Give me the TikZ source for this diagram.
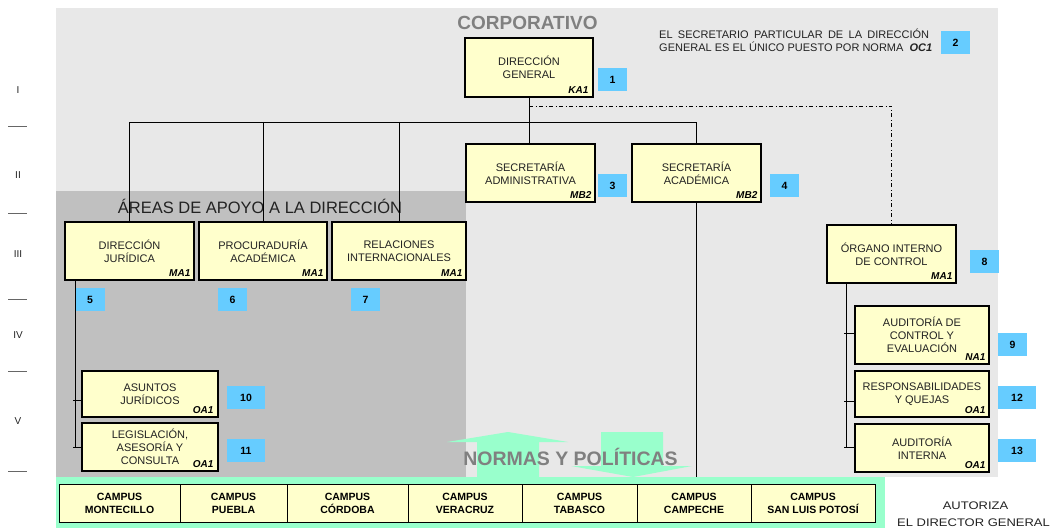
\documentclass[tikz,border=0pt]{standalone}
\usepackage{graphicx}
\usepackage{fontspec}
\setmainfont{Liberation Sans}
\definecolor{bglight}{HTML}{E8E8E8}
\definecolor{bgdark}{HTML}{C0C0C0}
\definecolor{boxfill}{HTML}{FFFFCC}
\definecolor{numblue}{HTML}{66CCFF}
\definecolor{mint}{HTML}{99FFCC}
\definecolor{titlegray}{HTML}{808080}
\definecolor{txt}{HTML}{222222}
\begin{document}
\begin{tikzpicture}[x=1pt,y=-1pt,
  orgbox/.style={draw=black, line width=1.1pt, fill=boxfill, inner sep=0pt, align=center, font=\fontsize{11}{13}\selectfont, text=txt},
  code/.style={font=\fontsize{10}{12}\selectfont\bfseries\itshape, inner sep=0pt, anchor=base east},
  num/.style={fill=numblue, minimum width=29pt, minimum height=23pt, inner sep=0pt, font=\fontsize{10.5}{12}\selectfont\bfseries},
  wnum/.style={num, minimum width=38pt},
  campus/.style={draw=black, line width=0.9pt, fill=boxfill, minimum height=38pt, inner sep=0pt, align=center, font=\fontsize{10.5}{13}\selectfont\bfseries},
  conn/.style={draw=black, line width=0.9pt},
  dashdotline/.style={draw=black, line width=0.9pt, dash pattern=on 4pt off 2.5pt on 1pt off 2.5pt},
  level/.style={font=\fontsize{10}{12}\selectfont, text=txt, inner sep=0pt},
  bigtitle/.style={font=\fontsize{19}{22}\selectfont\bfseries, text=titlegray, inner sep=0pt}
]
\useasboundingbox (0,0) rectangle (1055,529);
% backgrounds
\fill[bglight] (56,8) rectangle (998,477);
\fill[bgdark] (56,191) rectangle (466,477);
\fill[mint] (56,477) rectangle (885,528);

% level markers
\node[level] (l1) at (18,90) {I};
\node[level] (l2) at (18,175) {II};
\node[level] (l3) at (18,254) {III};
\node[level] (l4) at (18,335) {IV};
\node[level] (l5) at (18,421) {V};
\foreach \yy in {126,213,299,371,471} \draw[gray!80!black, line width=0.6pt] (8,\yy) -- (27,\yy);

% titles
\node[bigtitle] (corp) at (527.5,23) {CORPORATIVO};
\node[font=\fontsize{16.5}{19}\selectfont, text=txt, inner sep=0pt] (areas) at (260,206.5) {ÁREAS DE APOYO A LA DIRECCIÓN};

% arrows
\fill[mint] (477,477) -- (477,442) -- (447,442) -- (508,432) -- (568,442) -- (539,442) -- (539,477) -- cycle;
\fill[mint] (601,432) -- (663,432) -- (663,466) -- (692,466) -- (633,477) -- (571,466) -- (601,466) -- cycle;
\node[bigtitle, font=\fontsize{19.5}{22}\selectfont\bfseries] (normas) at (570.5,456.5) {NORMAS Y POLÍTICAS};

% note
\node[anchor=west, inner sep=0pt, align=left, font=\fontsize{11}{13}\selectfont, text=txt] (note) at (659,40.5)
  {\makebox[270pt][s]{EL SECRETARIO PARTICULAR DE LA DIRECCIÓN}\\GENERAL ES EL ÚNICO PUESTO POR NORMA\ \ \textbf{\textit{OC1}}};
\node[num] (n2) at (955.5,42.5) {2};

% boxes
\node[orgbox, minimum width=128pt, minimum height=59pt] (dg) at (529,67.5) {DIRECCIÓN\\GENERAL};
\node[orgbox, minimum width=129pt, minimum height=58pt] (sadm) at (530.5,173) {SECRETARÍA\\ADMINISTRATIVA};
\node[orgbox, minimum width=129pt, minimum height=58pt] (sac) at (696.5,173) {SECRETARÍA\\ACADÉMICA};
\node[orgbox, minimum width=129pt, minimum height=58pt] (dj) at (129.5,251) {DIRECCIÓN\\JURÍDICA};
\node[orgbox, minimum width=128pt, minimum height=58pt] (pa) at (263,251) {PROCURADURÍA\\ACADÉMICA};
\node[orgbox, minimum width=134pt, minimum height=58pt] (ri) at (399,251) {RELACIONES\\INTERNACIONALES};
\node[orgbox, minimum width=136pt, minimum height=46pt] (aj) at (150,394) {ASUNTOS\\JURÍDICOS};
\node[orgbox, minimum width=136pt, minimum height=48pt] (leg) at (150,447) {LEGISLACIÓN,\\ASESORÍA Y\\CONSULTA};
\node[orgbox, minimum width=129pt, minimum height=58pt] (org) at (891.5,254) {ÓRGANO INTERNO\\DE CONTROL};
\node[orgbox, minimum width=134pt, minimum height=58pt] (ace) at (922,335) {AUDITORÍA DE\\CONTROL Y\\EVALUACIÓN};
\node[orgbox, minimum width=134pt, minimum height=46pt] (rq) at (922,394) {RESPONSABILIDADES\\Y QUEJAS};
\node[orgbox, minimum width=134pt, minimum height=48pt] (ai) at (922,448) {AUDITORÍA\\INTERNA};

% codes
\node[code] (cdg) at ([xshift=-5pt,yshift=4pt]dg.south east) {KA1};
\node[code] (csadm) at ([xshift=-4pt,yshift=4pt]sadm.south east) {MB2};
\node[code] (csac) at ([xshift=-4pt,yshift=4pt]sac.south east) {MB2};
\node[code] (cdj) at ([xshift=-4pt,yshift=4pt]dj.south east) {MA1};
\node[code] (cpa) at ([xshift=-4pt,yshift=4pt]pa.south east) {MA1};
\node[code] (cri) at ([xshift=-4pt,yshift=4pt]ri.south east) {MA1};
\node[code] (caj) at ([xshift=-5pt,yshift=4pt]aj.south east) {OA1};
\node[code] (cleg) at ([xshift=-5pt,yshift=4pt]leg.south east) {OA1};
\node[code] (corg) at ([xshift=-4pt,yshift=4pt]org.south east) {MA1};
\node[code] (cace) at ([xshift=-4pt,yshift=4pt]ace.south east) {NA1};
\node[code] (crq) at ([xshift=-4pt,yshift=4pt]rq.south east) {OA1};
\node[code] (cai) at ([xshift=-4pt,yshift=4pt]ai.south east) {OA1};

% number tags
\node[num] (n1) at (612.5,79.5) {1};
\node[num] (n3) at (612.5,185.5) {3};
\node[num] (n4) at (784.5,185.5) {4};
\node[num] (n5) at (90,299.5) {5};
\node[num] (n6) at (232.5,299.5) {6};
\node[num] (n7) at (365.5,299.5) {7};
\node[num] (n8) at (984.5,261.5) {8};
\node[num] (n9) at (1012.5,344.5) {9};
\node[wnum] (n10) at (246,397.5) {10};
\node[wnum] (n11) at (246,450.5) {11};
\node[wnum] (n12) at (1017,397.5) {12};
\node[wnum] (n13) at (1017,450.5) {13};

% connectors
\coordinate (hb) at (0,122);
\draw[conn] (dg.south) -- (dg.south |- sadm.north);
\draw[conn] (dj.north) -- (dj.north |- hb) -- (sac.north |- hb) -- (sac.north);
\draw[conn] (pa.north |- hb) -- (pa.north);
\draw[conn] (ri.north |- hb) -- (ri.north);
\coordinate (dd) at (529,106);
\draw[dashdotline] (dd) -| (org.north);
\coordinate (camptop) at (0,477);
\draw[conn] (sac.south) -- (sac.south |- camptop);
% juridica branch
\coordinate (jl) at (75,447);
\coordinate (jt1) at (73,400);
\coordinate (jt2) at (73,447);
\draw[conn] (jl |- dj.south) -- (jl);
\draw[conn] (jt1) -- (jt1 -| aj.west);
\draw[conn] (jt2) -- (jt2 -| leg.west);
% organo branch
\coordinate (ol) at (846,447);
\coordinate (ot1) at (844,333);
\coordinate (ot2) at (844,401);
\coordinate (ot3) at (844,447);
\draw[conn] (ol |- org.south) -- (ol);
\draw[conn] (ot1) -- (ot1 -| ace.west);
\draw[conn] (ot2) -- (ot2 -| rq.west);
\draw[conn] (ot3) -- (ot3 -| ai.west);

% campus
\node[campus, minimum width=121pt] (c1) at (119.5,503) {CAMPUS\\MONTECILLO};
\node[campus, minimum width=107pt] (c2) at (233.5,503) {CAMPUS\\PUEBLA};
\node[campus, minimum width=121pt] (c3) at (347.5,503) {CAMPUS\\CÓRDOBA};
\node[campus, minimum width=114pt] (c4) at (465,503) {CAMPUS\\VERACRUZ};
\node[campus, minimum width=115pt] (c5) at (579.5,503) {CAMPUS\\TABASCO};
\node[campus, minimum width=114pt] (c6) at (694,503) {CAMPUS\\CAMPECHE};
\node[campus, minimum width=124pt] (c7) at (813,503) {CAMPUS\\SAN LUIS POTOSÍ};

% authorization
\node[inner sep=0pt, font=\fontsize{11}{13}\selectfont, text=txt] (aut1) at (975.5,506) {\scalebox{1.18}[1]{AUTORIZA}};
\node[inner sep=0pt, font=\fontsize{11}{13}\selectfont, text=txt] (aut2) at (973.5,523) {\scalebox{1.18}[1]{EL DIRECTOR GENERAL}};
\end{tikzpicture}
\end{document}
